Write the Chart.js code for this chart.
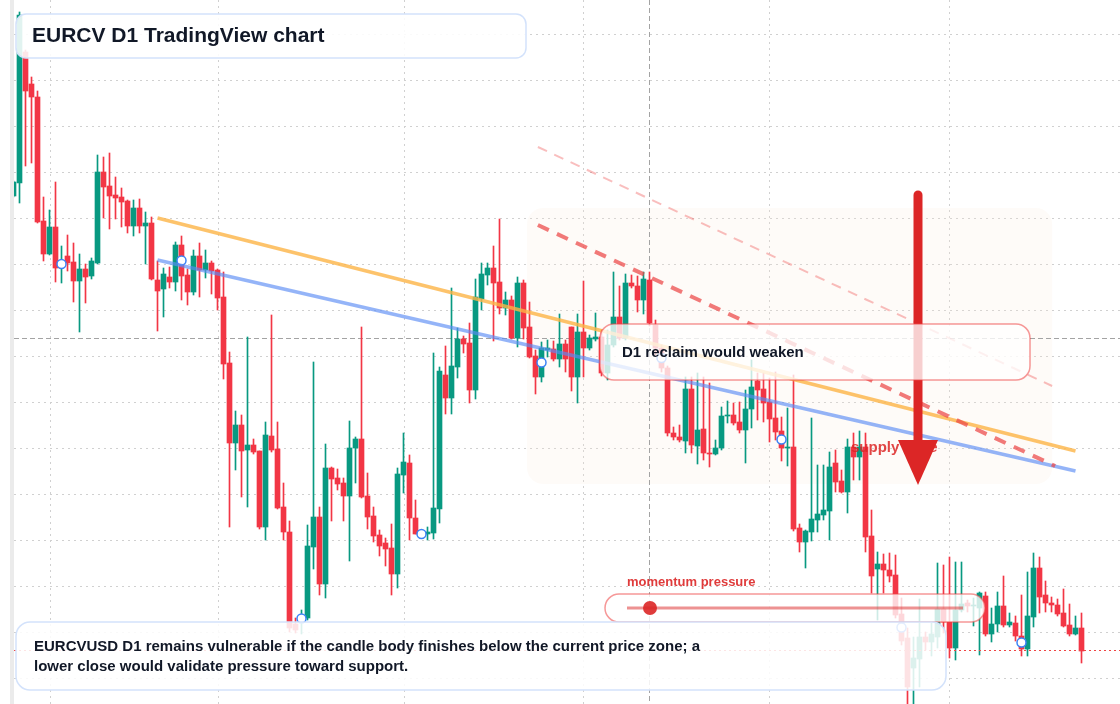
<!DOCTYPE html>
<html>
<head>
<meta charset="utf-8">
<title>EURCV D1</title>
<script src="https://cdn.jsdelivr.net/npm/chart.js@4.4.1/dist/chart.umd.min.js"></script>
<style>
html, body { margin: 0; padding: 0; background: #fff; }
#caja { position: relative; width: 1120px; height: 704px; }
</style>
</head>
<body>
<div id="caja"><canvas id="myChart" width="1120" height="704"></canvas></div>
<script>
// velas D1 (indice 0 = 26 ene)
var opens = [1.1804,1.1817,1.1948,1.1916,1.1903,1.1779,1.1746,1.1773,1.1733,1.1744,
  1.1738,1.1719,1.1731,1.1724,1.1737,1.1828,1.1814,1.1805,1.1803,1.1799,
  1.1774,1.1792,1.1774,1.1777,1.1720,1.1711,1.1723,1.1718,1.1755,1.1725,
  1.1708,1.1744,1.1730,1.1737,1.1730,1.1703,1.1637,1.1557,1.1575,1.1550,
  1.1555,1.1549,1.1473,1.1564,1.1551,1.1493,1.1468,1.1376,1.1380,1.1382,
  1.1453,1.1483,1.1416,1.1532,1.1522,1.1517,1.1504,1.1552,1.1561,1.1504,
  1.1484,1.1465,1.1457,1.1452,1.1426,1.1525,1.1537,1.1482,1.1467,1.1466,
  1.1467,1.1491,1.1625,1.1602,1.1633,1.1661,1.1657,1.1610,1.1701,1.1725,
  1.1732,1.1718,1.1692,1.1700,1.1662,1.1717,1.1673,1.1644,1.1623,1.1650,
  1.1651,1.1641,1.1656,1.1673,1.1623,1.1668,1.1652,1.1661,1.1663,1.1627,
  1.1655,1.1683,1.1662,1.1717,1.1714,1.1700,1.1720,1.1675,1.1652,1.1632,
  1.1567,1.1563,1.1559,1.1611,1.1554,1.1571,1.1547,1.1546,1.1552,1.1584,
  1.1585,1.1578,1.1570,1.1591,1.1619,1.1611,1.1598,1.1582,1.1569,1.1552,
  1.1553,1.1472,1.1458,1.1468,1.1480,1.1485,1.1489,1.1537,1.1519,1.1508,
  1.1553,1.1543,1.1553,1.1464,1.1431,1.1436,1.1430,1.1425,1.1386,1.1362,
  1.1332,1.1341,1.1363,1.1358,1.1363,1.1391,1.1378,1.1352,1.1390,1.1397,
  1.1394,1.1392,1.1404,1.1366,1.1376,1.1394,1.1375,1.1377,1.1364,1.1351,
  1.1383,1.1432,1.1405,1.1397,1.1395,1.1387,1.1375,1.1366,1.1372];
var highs = [1.1819,1.1988,1.1950,1.1923,1.1909,1.1803,1.1790,1.1818,1.1754,1.1765,
  1.1757,1.1746,1.1736,1.1742,1.1845,1.1843,1.1847,1.1823,1.1812,1.1800,
  1.1800,1.1801,1.1788,1.1783,1.1739,1.1732,1.1733,1.1758,1.1764,1.1731,
  1.1750,1.1757,1.1750,1.1739,1.1731,1.1728,1.1648,1.1589,1.1585,1.1663,
  1.1561,1.1549,1.1578,1.1685,1.1578,1.1517,1.1479,1.1382,1.1390,1.1475,
  1.1638,1.1493,1.1556,1.1533,1.1531,1.1522,1.1579,1.1563,1.1673,1.1527,
  1.1493,1.1470,1.1462,1.1476,1.1532,1.1567,1.1545,1.1500,1.1470,1.1473,
  1.1647,1.1633,1.1654,1.1712,1.1672,1.1664,1.1677,1.1721,1.1737,1.1737,
  1.1754,1.1781,1.1708,1.1704,1.1723,1.1720,1.1698,1.1650,1.1658,1.1660,
  1.1659,1.1686,1.1660,1.1673,1.1686,1.1719,1.1665,1.1687,1.1670,1.1670,
  1.1728,1.1714,1.1726,1.1725,1.1724,1.1728,1.1728,1.1680,1.1655,1.1634,
  1.1573,1.1575,1.1623,1.1623,1.1627,1.1623,1.1617,1.1560,1.1593,1.1599,
  1.1597,1.1598,1.1610,1.1640,1.1627,1.1627,1.1622,1.1628,1.1583,1.1592,
  1.1625,1.1476,1.1470,1.1582,1.1535,1.1535,1.1548,1.1550,1.1530,1.1561,
  1.1567,1.1569,1.1567,1.1490,1.1448,1.1446,1.1447,1.1445,1.1402,1.1372,
  1.1363,1.1401,1.1368,1.1377,1.1437,1.1435,1.1443,1.1438,1.1438,1.1400,
  1.1402,1.1408,1.1408,1.1392,1.1408,1.1424,1.1387,1.1384,1.1405,1.1428,
  1.1447,1.1443,1.1419,1.1403,1.1401,1.1411,1.1396,1.1384,1.1387];
var lows = [1.1803,1.1797,1.1834,1.1837,1.1777,1.1739,1.1745,1.1718,1.1717,1.1729,
  1.1698,1.1668,1.1697,1.1721,1.1736,1.1782,1.1771,1.1781,1.1773,1.1767,
  1.1764,1.1767,1.1736,1.1720,1.1669,1.1683,1.1712,1.1709,1.1700,1.1695,
  1.1705,1.1703,1.1722,1.1706,1.1690,1.1621,1.1473,1.1530,1.1503,1.1493,
  1.1546,1.1471,1.1460,1.1548,1.1491,1.1460,1.1368,1.1367,1.1366,1.1380,
  1.1431,1.1405,1.1402,1.1479,1.1510,1.1479,1.1439,1.1517,1.1502,1.1471,
  1.1458,1.1444,1.1434,1.1405,1.1412,1.1507,1.1460,1.1466,1.1462,1.1460,
  1.1461,1.1477,1.1586,1.1586,1.1622,1.1647,1.1597,1.1601,1.1690,1.1715,
  1.1659,1.1686,1.1685,1.1661,1.1653,1.1661,1.1642,1.1606,1.1618,1.1643,
  1.1639,1.1633,1.1628,1.1609,1.1597,1.1623,1.1650,1.1659,1.1624,1.1620,
  1.1653,1.1660,1.1660,1.1712,1.1688,1.1686,1.1674,1.1645,1.1628,1.1564,
  1.1560,1.1558,1.1547,1.1547,1.1536,1.1540,1.1533,1.1545,1.1550,1.1577,
  1.1575,1.1567,1.1537,1.1572,1.1580,1.1578,1.1558,1.1560,1.1539,1.1534,
  1.1469,1.1448,1.1432,1.1459,1.1468,1.1480,1.1460,1.1508,1.1507,1.1487,
  1.1520,1.1520,1.1448,1.1407,1.1380,1.1407,1.1418,1.1382,1.1355,1.1290,
  1.1292,1.1313,1.1350,1.1344,1.1352,1.1367,1.1342,1.1340,1.1388,1.1388,
  1.1374,1.1345,1.1364,1.1358,1.1368,1.1373,1.1373,1.1359,1.1344,1.1344,
  1.1373,1.1387,1.1388,1.1388,1.1384,1.1373,1.1364,1.1365,1.1337];
var closes = [1.1818,1.1985,1.1909,1.1903,1.1778,1.1746,1.1773,1.1732,1.1739,1.1737,
  1.1719,1.1731,1.1723,1.1739,1.1828,1.1813,1.1804,1.1802,1.1798,1.1774,
  1.1792,1.1774,1.1777,1.1721,1.1709,1.1726,1.1718,1.1755,1.1724,1.1708,
  1.1744,1.1730,1.1737,1.1729,1.1702,1.1636,1.1557,1.1575,1.1549,1.1555,
  1.1548,1.1473,1.1565,1.1550,1.1492,1.1468,1.1372,1.1370,1.1383,1.1454,
  1.1483,1.1416,1.1532,1.1521,1.1516,1.1504,1.1552,1.1561,1.1503,1.1483,
  1.1464,1.1454,1.1451,1.1426,1.1526,1.1538,1.1482,1.1466,1.1465,1.1468,
  1.1492,1.1629,1.1602,1.1634,1.1661,1.1656,1.1610,1.1703,1.1726,1.1732,
  1.1717,1.1692,1.1700,1.1662,1.1717,1.1672,1.1643,1.1623,1.1652,1.1652,
  1.1641,1.1656,1.1641,1.1623,1.1668,1.1652,1.1662,1.1663,1.1627,1.1655,
  1.1683,1.1662,1.1717,1.1714,1.1700,1.1721,1.1677,1.1652,1.1632,1.1567,
  1.1563,1.1560,1.1611,1.1555,1.1570,1.1547,1.1546,1.1552,1.1584,1.1585,
  1.1577,1.1570,1.1591,1.1613,1.1610,1.1597,1.1581,1.1568,1.1552,1.1553,
  1.1471,1.1458,1.1469,1.1481,1.1486,1.1490,1.1533,1.1518,1.1508,1.1553,
  1.1543,1.1553,1.1463,1.1424,1.1436,1.1430,1.1424,1.1385,1.1359,1.1313,
  1.1342,1.1363,1.1358,1.1366,1.1391,1.1378,1.1352,1.1390,1.1396,1.1394,
  1.1395,1.1407,1.1366,1.1376,1.1394,1.1375,1.1378,1.1364,1.1351,1.1384,
  1.1432,1.1403,1.1397,1.1395,1.1386,1.1374,1.1366,1.1372,1.1349];

// rejilla (sin etiquetas visibles)
var monthTicks = [6, 34, 65, 95, 126, 156];
var monthLabels = ['Feb', 'Mar', 'Apr', 'May', 'Jun', 'Jul'];
var priceTicks = [1.19657,1.19197,1.18737,1.18277,1.17817,1.17357,1.16897,1.16437,
  1.15977,1.15517,1.15057,1.14597,1.14137,1.13677,1.13217];
var markerIdx = [8, 28, 48, 68, 88, 108, 128, 148, 168];

// dibujos sobre el grafico [indice, precio]
var trendOrange = [[24, 1.1782], [177, 1.1549]];
var trendBlue = [[24, 1.1740], [177, 1.1529]];
var channelMain = [[87.4, 1.1775], [173.6, 1.1534]];
var channelUpper = [[87.4, 1.1853], [173.1, 1.1614]];
var supplyZone = [[85.6, 1.1792], [173.1, 1.1516]];
var arrowDown = [[150.75, 1.1805], [150.75, 1.1560], [150.75, 1.1515]];
var crossIdx = 106;
var crossPrice = 1.1662;
var lastPrice = 1.1350;

var VERDE = '#089981';
var ROJO = '#f23645';

var cuerpos = [], mechas = [], colores = [], marcas = [];
for (var i = 0; i < opens.length; i++) {
    cuerpos.push({x: i, y: [opens[i], closes[i]]});
    mechas.push({x: i, y: [lows[i], highs[i]]});
    colores.push(closes[i] >= opens[i] ? VERDE : ROJO);
}
for (var k = 0; k < markerIdx.length; k++) {
    var m = markerIdx[k];
    marcas.push({x: m, y: (opens[m] + closes[m]) / 2});
}

var FUENTE = '"Liberation Sans", Arial, sans-serif';

function caja(ctx, x, y, w, h, r, fondo, borde, grosor) {
    ctx.beginPath();
    ctx.roundRect(x, y, w, h, r);
    ctx.fillStyle = fondo;
    ctx.fill();
    ctx.lineWidth = grosor;
    ctx.strokeStyle = borde;
    ctx.stroke();
}

function linea(ctx, sx, sy, p, color, ancho, dash) {
    ctx.beginPath();
    ctx.setLineDash(dash || []);
    ctx.moveTo(sx.getPixelForValue(p[0][0]), sy.getPixelForValue(p[0][1]));
    ctx.lineTo(sx.getPixelForValue(p[1][0]), sy.getPixelForValue(p[1][1]));
    ctx.strokeStyle = color;
    ctx.lineWidth = ancho;
    ctx.stroke();
    ctx.setLineDash([]);
}

var dibujos = {
    id: 'dibujos',
    beforeDatasetsDraw: function(chart) {
        var ctx = chart.ctx, sx = chart.scales.x, sy = chart.scales.y, a = chart.chartArea;
        ctx.save();
        ctx.fillStyle = '#ebebeb';
        ctx.fillRect(10, 0, 4, 704);

        // rejilla punteada
        ctx.setLineDash([2, 4]);
        ctx.strokeStyle = '#d0d0d0';
        ctx.lineWidth = 1;
        ctx.beginPath();
        priceTicks.forEach(function(v) {
            var y = Math.round(sy.getPixelForValue(v)) + 0.5;
            ctx.moveTo(a.left, y); ctx.lineTo(a.right, y);
        });
        monthTicks.forEach(function(v) {
            var x = Math.round(sx.getPixelForValue(v)) + 0.5;
            ctx.moveTo(x, a.top); ctx.lineTo(x, a.bottom);
        });
        ctx.stroke();

        // zona de oferta
        var x1 = sx.getPixelForValue(supplyZone[0][0]), x2 = sx.getPixelForValue(supplyZone[1][0]);
        var y1 = sy.getPixelForValue(supplyZone[0][1]), y2 = sy.getPixelForValue(supplyZone[1][1]);
        ctx.setLineDash([]);
        ctx.beginPath();
        ctx.roundRect(x1, y1, x2 - x1, y2 - y1, 16);
        ctx.fillStyle = 'rgba(250, 236, 222, 0.2)';
        ctx.fill();

        // cruz
        ctx.setLineDash([5, 3]);
        ctx.strokeStyle = '#a3a3a3';
        var cx = Math.round(sx.getPixelForValue(crossIdx)) + 0.5;
        var cy = Math.round(sy.getPixelForValue(crossPrice)) + 0.5;
        ctx.beginPath();
        ctx.moveTo(cx, a.top); ctx.lineTo(cx, a.bottom);
        ctx.moveTo(a.left, cy); ctx.lineTo(a.right, cy);
        ctx.stroke();
        ctx.restore();
    },
    afterDatasetsDraw: function(chart) {
        var ctx = chart.ctx, sx = chart.scales.x, sy = chart.scales.y, a = chart.chartArea;
        ctx.save();
        ctx.lineCap = 'butt';
        linea(ctx, sx, sy, trendOrange, 'rgba(252, 180, 70, 0.8)', 3.5);
        linea(ctx, sx, sy, trendBlue, 'rgba(90, 140, 245, 0.65)', 3.5);
        linea(ctx, sx, sy, channelUpper, 'rgba(239, 68, 68, 0.35)', 2, [10, 8]);
        linea(ctx, sx, sy, channelMain, 'rgba(235, 70, 70, 0.72)', 4, [12, 9]);

        // texto zona
        ctx.font = 'bold 15px ' + FUENTE;
        ctx.textBaseline = 'middle';
        ctx.fillStyle = 'rgba(220, 38, 38, 0.85)';
        ctx.fillText('supply zone', 851, 448);

        // flecha bajista
        var ax = sx.getPixelForValue(arrowDown[0][0]);
        var ay0 = sy.getPixelForValue(arrowDown[0][1]);
        var ay1 = sy.getPixelForValue(arrowDown[1][1]);
        var ay2 = sy.getPixelForValue(arrowDown[2][1]);
        ctx.beginPath();
        ctx.lineCap = 'round';
        ctx.moveTo(ax, ay0); ctx.lineTo(ax, ay1 + 2);
        ctx.strokeStyle = '#dc2626';
        ctx.lineWidth = 9;
        ctx.stroke();
        ctx.beginPath();
        ctx.moveTo(ax - 20, ay1); ctx.lineTo(ax + 20, ay1); ctx.lineTo(ax, ay2);
        ctx.closePath();
        ctx.fillStyle = '#dc2626';
        ctx.fill();

        // caja reclaim
        caja(ctx, 600, 324, 430, 56, 14, 'rgba(255,255,255,0.78)', 'rgba(239, 68, 68, 0.55)', 1.5);
        ctx.font = 'bold 15px ' + FUENTE;
        ctx.fillStyle = '#111827';
        ctx.fillText('D1 reclaim would weaken', 622, 353);

        // momentum
        ctx.font = 'bold 13px ' + FUENTE;
        ctx.fillStyle = 'rgba(220, 38, 38, 0.9)';
        ctx.fillText('momentum pressure', 627, 582);
        caja(ctx, 605, 594, 380, 28, 14, 'rgba(255,255,255,0.8)', 'rgba(239, 68, 68, 0.55)', 1.5);
        ctx.beginPath();
        ctx.lineCap = 'butt';
        ctx.moveTo(627, 608); ctx.lineTo(963, 608);
        ctx.strokeStyle = 'rgba(220, 38, 38, 0.5)';
        ctx.lineWidth = 3;
        ctx.stroke();
        ctx.beginPath();
        ctx.arc(650, 608, 7, 0, Math.PI * 2);
        ctx.fillStyle = 'rgba(220, 38, 38, 0.9)';
        ctx.fill();

        // precio actual
        var py = Math.round(sy.getPixelForValue(lastPrice)) + 0.5;
        ctx.beginPath();
        ctx.setLineDash([2, 3]);
        ctx.moveTo(a.left, py); ctx.lineTo(a.right, py);
        ctx.strokeStyle = '#ef4444';
        ctx.lineWidth = 1;
        ctx.stroke();
        ctx.setLineDash([]);

        // titulo
        caja(ctx, 16, 14, 510, 44, 10, 'rgba(255,255,255,0.88)', '#d3e2fb', 1.5);
        ctx.font = 'bold 21px ' + FUENTE;
        ctx.fillStyle = '#111827';
        ctx.fillText('EURCV D1 TradingView chart', 32, 36);

        // nota inferior
        caja(ctx, 16, 622, 930, 68, 14, 'rgba(255,255,255,0.86)', '#d3e2fb', 1.5);
        ctx.font = 'bold 15px ' + FUENTE;
        ctx.fillStyle = '#111827';
        ctx.fillText('EURCVUSD D1 remains vulnerable if the candle body finishes below the current price zone; a', 34, 647);
        ctx.fillText('lower close would validate pressure toward support.', 34, 667);
        ctx.restore();
    }
};

var newChar = document.getElementById('myChart');
var charGrafico = new Chart(newChar, {
    type: 'bar',
    data: {
        datasets: [{
            type: 'line',
            label: 'marcas',
            data: marcas,
            showLine: false,
            pointRadius: 4.5,
            pointBorderWidth: 1.5,
            pointBorderColor: '#3b82f6',
            pointBackgroundColor: '#ffffff',
            order: 0
        }, {
            label: 'cuerpos',
            data: cuerpos,
            backgroundColor: colores,
            borderWidth: 0,
            barThickness: 5,
            minBarLength: 1,
            grouped: false,
            order: 1
        }, {
            label: 'mechas',
            data: mechas,
            backgroundColor: colores,
            borderWidth: 0,
            barThickness: 1,
            grouped: false,
            order: 2
        }]
    },
    options: {
        responsive: false,
        animation: false,
        devicePixelRatio: 1,
        layout: { autoPadding: false, padding: { left: 14, right: 0, top: 0, bottom: 0 } },
        plugins: { legend: { display: false }, tooltip: { enabled: false } },
        scales: {
            x: {
                type: 'linear',
                display: false,
                offset: false,
                min: 0.0833,
                max: 184.4167,
                ticks: {
                    callback: function(v) { return monthLabels[monthTicks.indexOf(v)] || ''; }
                }
            },
            y: {
                display: false,
                min: 1.1296,
                max: 1.2000
            }
        }
    },
    plugins: [dibujos]
});
</script>
</body>
</html>
